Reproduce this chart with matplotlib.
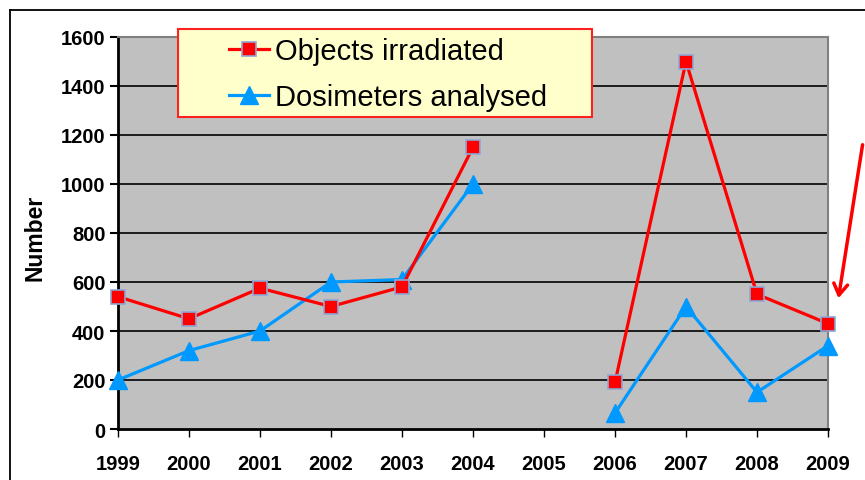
import matplotlib
matplotlib.use('Agg')
import matplotlib.pyplot as plt
import matplotlib.patches as patches
from matplotlib.lines import Line2D
import numpy as np

plt.rcParams['font.family'] = ['Liberation Sans', 'DejaVu Sans']

# data (2005 has no values)
years = [1999, 2000, 2001, 2002, 2003, 2004, 2005, 2006, 2007, 2008, 2009]
objects_irradiated = [540, 450, 575, 500, 580, 1150, np.nan, 190, 1500, 550, 430]
dosimeters_analysed = [200, 320, 400, 600, 610, 1000, np.nan, 65, 500, 150, 340]
y_ticks = [0, 200, 400, 600, 800, 1000, 1200, 1400, 1600]

RED = '#FF0000'
BLUE = '#0099FF'

fig = plt.figure(figsize=(8.65, 4.81), dpi=100, facecolor='white')
ax = fig.add_axes([118/865, 1 - 430/481, 710/865, 392/481])
ax.set_facecolor('#C0C0C0')

# gridlines
for v in y_ticks[1:-1]:
    ax.axhline(v, color='black', lw=1.2, zorder=1)

ax.plot(years, objects_irradiated, color=RED, lw=2.3, marker='s', markersize=10,
        markerfacecolor=RED, markeredgecolor='#8FA6D6', markeredgewidth=1.2,
        clip_on=False, zorder=4, label='Objects irradiated')
ax.plot(years, dosimeters_analysed, color=BLUE, lw=2.3, marker='^', markersize=13,
        markerfacecolor=BLUE, markeredgecolor=BLUE,
        clip_on=False, zorder=3, label='Dosimeters analysed')

ax.set_xlim(1999, 2009)
ax.set_ylim(0, 1600)
ax.set_xticks(years)
ax.set_xticklabels([str(y) for y in years])
ax.set_yticks(y_ticks)

for lab in ax.get_xticklabels() + ax.get_yticklabels():
    lab.set_fontweight('bold')
    lab.set_fontsize(14.5)
ax.tick_params(axis='y', direction='out', length=6, width=1.5, pad=3)
ax.tick_params(axis='x', direction='out', length=6, width=1.0, pad=12)

ax.spines['left'].set_color('black')
ax.spines['left'].set_linewidth(2)
ax.spines['bottom'].set_color('black')
ax.spines['bottom'].set_linewidth(2)
ax.spines['top'].set_color('#808080')
ax.spines['top'].set_linewidth(1.5)
ax.spines['right'].set_color('#808080')
ax.spines['right'].set_linewidth(1.5)

ax.set_ylabel('Number', fontsize=16.5, fontweight='bold')
ax.yaxis.set_label_coords(-0.1, 0.49)

# legend box drawn by hand, entries on top
box = patches.Rectangle((178/865, 1 - 118/481), 414/865, 88/481, transform=fig.transFigure,
                        facecolor='#FFFFCC', edgecolor='#FF2020', lw=1.5, zorder=5)
fig.patches.append(box)
leg = fig.legend(loc='center', bbox_to_anchor=(388/865, 1 - 75/481), frameon=False,
                 fontsize=21, handlelength=1.4, handletextpad=0.2, labelspacing=0.6,
                 borderpad=0.0)
leg.set_zorder(6)

# outer frame lines
fig.add_artist(Line2D([10/865, 1], [1 - 11/481, 1 - 11/481], transform=fig.transFigure,
                      color='black', lw=1.3))
fig.add_artist(Line2D([10/865, 10/865], [0, 1 - 11/481], transform=fig.transFigure,
                      color='black', lw=1.3))

# red arrow on the right
fig.add_artist(patches.FancyArrowPatch((863/865, 1 - 143/481), (838/865, 1 - 302/481),
                                       transform=fig.transFigure, arrowstyle='->,head_length=8,head_width=5',
                                       color=RED, lw=2.5, mutation_scale=1))

fig.savefig('out.png', dpi=100)
